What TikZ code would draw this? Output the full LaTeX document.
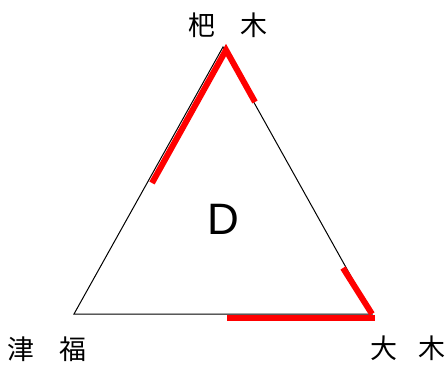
\documentclass[tikz,border=0pt]{standalone}
\usepackage{fontspec}
\newfontfamily\cjk{Noto Sans CJK JP}
\newfontfamily\lat{Liberation Sans}
\tikzset{
  lbl/.style={font=\cjk\fontsize{27}{27}\selectfont, inner sep=0pt, anchor=center},
  edge/.style={draw=black, line width=1pt},
  hl/.style={draw=red, line width=6pt, line cap=butt, line join=miter}
}
\begin{document}
\begin{tikzpicture}[x=1pt,y=-1pt]
\useasboundingbox (0,0) rectangle (448,367);
\coordinate (T) at (223,47);
\coordinate (L) at (74,314);
\coordinate (R) at (372,314);
\draw[edge] (T) -- (L) -- (R) -- cycle;
\coordinate (a1) at (152,183);
\coordinate (a2) at (226,50);
\coordinate (a3) at (255,102);
\coordinate (b1) at (343,268);
\coordinate (b2) at (372,314);
\coordinate (c1) at (227,318);
\coordinate (c2) at (375,318);
\draw[hl] (a1) -- (a2) -- (a3);
\draw[hl] (b1) -- (b2);
\draw[hl] (c1) -- (c2);
\node[lbl] (nT) at (228,25) {杷\hspace{0.95em}木};
\node[lbl] (nL) at (47,349) {津\hspace{0.9em}福};
\node[lbl] (nR) at (408,348) {大\hspace{0.8em}木};
\node[font=\lat\fontsize{44}{44}\selectfont, inner sep=0pt] (D) at (223,219) {D};
\end{tikzpicture}
\end{document}
